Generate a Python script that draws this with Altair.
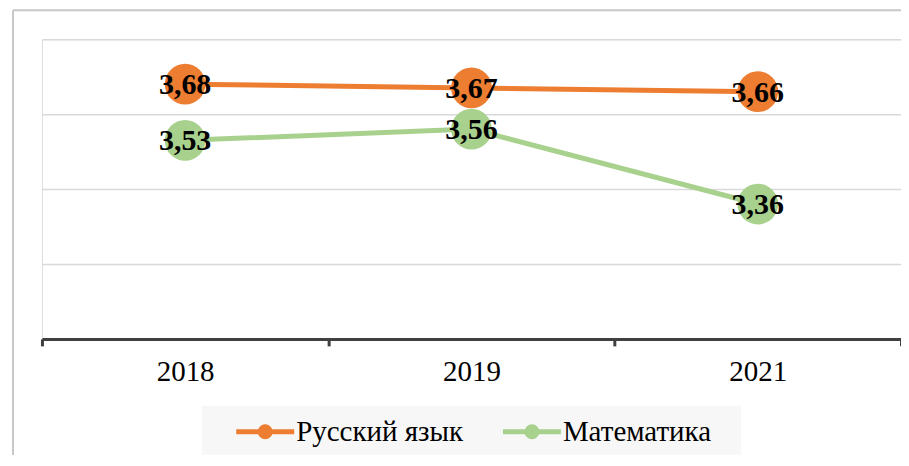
import altair as alt
import pandas as pd

years = ["2018", "2019", "2021"]
series = ["Русский язык", "Математика"]
russian = [3.68, 3.67, 3.66]
math = [3.53, 3.56, 3.36]
colors = ["#ED7D31", "#A9D18E"]

rows = []
for s, vals in zip(series, [russian, math]):
    for y, v in zip(years, vals):
        rows.append({"year": y, "series": s, "value": v})
df = pd.DataFrame(rows)

FONT = "Liberation Serif"

x_enc = alt.X("year:O", sort=years,
              scale=alt.Scale(type="band", paddingInner=0, paddingOuter=0),
              axis=alt.Axis(title=None, labelAngle=0, labelFont=FONT, labelFontSize=29,
                            labelColor="#000000", labelPadding=12, tickBand="extent",
                            domainColor="#404040", domainWidth=3, tickColor="#404040",
                            tickWidth=3, tickSize=7, grid=False))
y_enc = alt.Y("value:Q", scale=alt.Scale(domain=[3.0, 3.8], nice=False, zero=False),
              axis=alt.Axis(title=None, labels=False, ticks=False, domain=False,
                            values=[3.2, 3.4, 3.6, 3.8], gridColor="#d9d9d9", gridWidth=1.5))
SYMBOL = ("M-2,0H2"
          "M-0.15,0A0.15,0.15,0,1,1,0.15,0A0.15,0.15,0,1,1,-0.15,0Z"
          "M-0.34,0A0.34,0.34,0,1,1,0.34,0A0.34,0.34,0,1,1,-0.34,0Z")
color_enc = alt.Color("series:N", sort=series,
                      scale=alt.Scale(domain=series, range=colors),
                      legend=alt.Legend(title=None, orient="none", legendX=206.5, legendY=376,
                                        direction="horizontal", padding=0,
                                        labelFont=FONT, labelFontSize=29, labelLimit=400,
                                        labelColor="#000000", columnPadding=29,
                                        symbolType=SYMBOL,
                                        symbolSize=841, symbolStrokeWidth=5, labelOffset=14))

base = alt.Chart(df)
lines = base.mark_line(strokeWidth=5).encode(x=x_enc, y=y_enc, color=color_enc, detail="series:N")
points = base.mark_circle(size=1660, opacity=1).encode(
    x=x_enc, y=y_enc,
    color=alt.Color("series:N", sort=series, scale=alt.Scale(domain=series, range=colors), legend=None))
labels = base.transform_calculate(
    lab="replace(format(datum.value, '.2f'), '.', ',')"
).mark_text(font=FONT, fontSize=30, fontWeight="bold", color="#000000", baseline="middle", dy=1).encode(
    x=x_enc, y=y_enc, text="lab:N")

one = pd.DataFrame({"a": [0]})
border_top = alt.Chart(one).mark_rule(color="#c8c8c8", strokeWidth=2).encode(
    x=alt.value(-29), x2=alt.value(870), y=alt.value(-29))
border_left = alt.Chart(one).mark_rule(color="#c8c8c8", strokeWidth=2).encode(
    x=alt.value(-29), y=alt.value(-29), y2=alt.value(420))
legend_box = alt.Chart(one).mark_rect(color="#f7f7f7").encode(
    x=alt.value(160), x2=alt.value(700), y=alt.value(367), y2=alt.value(416))

chart = alt.layer(border_top, border_left, legend_box, lines, points, labels).properties(
    width=860, height=300,
    padding={"left": 34, "top": 31, "right": 0, "bottom": 116},
    autosize=alt.AutoSizeParams(type="none"),
).configure_view(stroke=None).configure(background="#ffffff")

chart.save("out.html", embed_options={"renderer": "svg", "actions": False})
